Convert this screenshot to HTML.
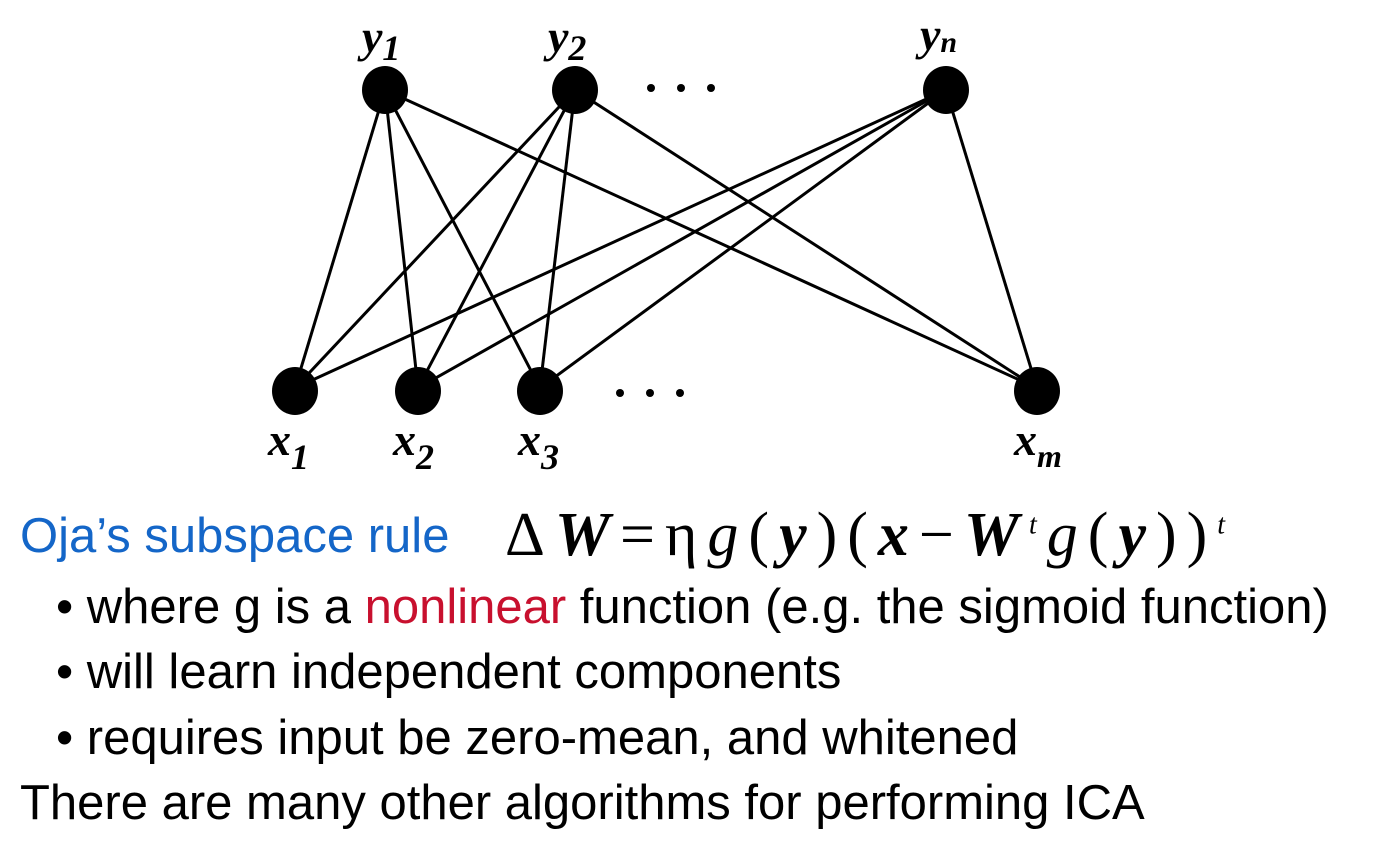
<!DOCTYPE html>
<html><head><meta charset="utf-8"><style>
body{margin:0;width:1378px;height:856px;background:#fff;position:relative;overflow:hidden;font-family:"Liberation Sans",sans-serif}
.t{position:absolute;white-space:nowrap;font-size:49px;color:#000;line-height:1}
.f{position:absolute;white-space:nowrap;font-family:"Liberation Serif",serif;font-size:62px;line-height:1;letter-spacing:10px}
</style></head><body>
<svg width="1378" height="490" style="position:absolute;left:0;top:0" font-family="Liberation Serif,serif" font-weight="bold" font-style="italic">
<g stroke="#000" stroke-width="3">
<line x1="385" y1="90" x2="295" y2="388"/><line x1="385" y1="90" x2="418" y2="388"/><line x1="385" y1="90" x2="540" y2="388"/><line x1="385" y1="90" x2="1037" y2="388"/>
<line x1="575" y1="90" x2="295" y2="388"/><line x1="575" y1="90" x2="418" y2="388"/><line x1="575" y1="90" x2="540" y2="388"/><line x1="575" y1="90" x2="1037" y2="388"/>
<line x1="946" y1="90" x2="295" y2="388"/><line x1="946" y1="90" x2="418" y2="388"/><line x1="946" y1="90" x2="540" y2="388"/><line x1="946" y1="90" x2="1037" y2="388"/>
</g>
<g fill="#000">
<ellipse cx="385" cy="90" rx="23" ry="24"/><ellipse cx="575" cy="90" rx="23" ry="24"/><ellipse cx="946" cy="90" rx="23" ry="24"/>
<ellipse cx="295" cy="391" rx="23" ry="24"/><ellipse cx="418" cy="391" rx="23" ry="24"/><ellipse cx="540" cy="391" rx="23" ry="24"/><ellipse cx="1037" cy="391" rx="23" ry="24"/>
<circle cx="651" cy="88" r="4"/><circle cx="681" cy="88" r="4"/><circle cx="711" cy="88" r="4"/>
<circle cx="620" cy="393" r="4"/><circle cx="650" cy="393" r="4"/><circle cx="680" cy="393" r="4"/>
<text x="362" y="52" font-size="46">y<tspan font-size="36" dy="8">1</tspan></text>
<text x="548" y="52" font-size="46">y<tspan font-size="36" dy="8">2</tspan></text>
<text x="920" y="50" font-size="46">y<tspan font-size="30" dy="2">n</tspan></text>
<text x="268" y="455" font-size="46">x<tspan font-size="36" dy="14">1</tspan></text>
<text x="393" y="455" font-size="46">x<tspan font-size="36" dy="14">2</tspan></text>
<text x="518" y="455" font-size="46">x<tspan font-size="36" dy="14">3</tspan></text>
<text x="1014" y="455" font-size="46">x<tspan font-size="32" dy="12">m</tspan></text>
</g>
</svg>
<div class="t" style="left:20px;top:512px;color:#1466c8">Oja’s subspace rule</div>
<div class="f" style="left:505px;top:504px"><span style="font-style:normal">Δ</span><b><i>W</i></b><span style="font-style:normal">=η</span><i>g</i><span style="font-style:normal">(</span><b><i>y</i></b><span style="font-style:normal">)(</span><b><i>x</i></b><span style="font-style:normal">−</span><b><i>W</i></b><sup style="font-size:28px"><i>t</i></sup><i>g</i><span style="font-style:normal">(</span><b><i>y</i></b><span style="font-style:normal">))</span><sup style="font-size:28px"><i>t</i></sup></div>
<div class="t" style="left:56px;top:583px">• where g is a <span style="color:#c8102e">nonlinear</span> function (e.g. the sigmoid function)</div>
<div class="t" style="left:56px;top:648px">• will learn independent components</div>
<div class="t" style="left:56px;top:714px">• requires input be zero-mean, and whitened</div>
<div class="t" style="left:20px;top:779px">There are many other algorithms for performing ICA</div>
</body></html>
